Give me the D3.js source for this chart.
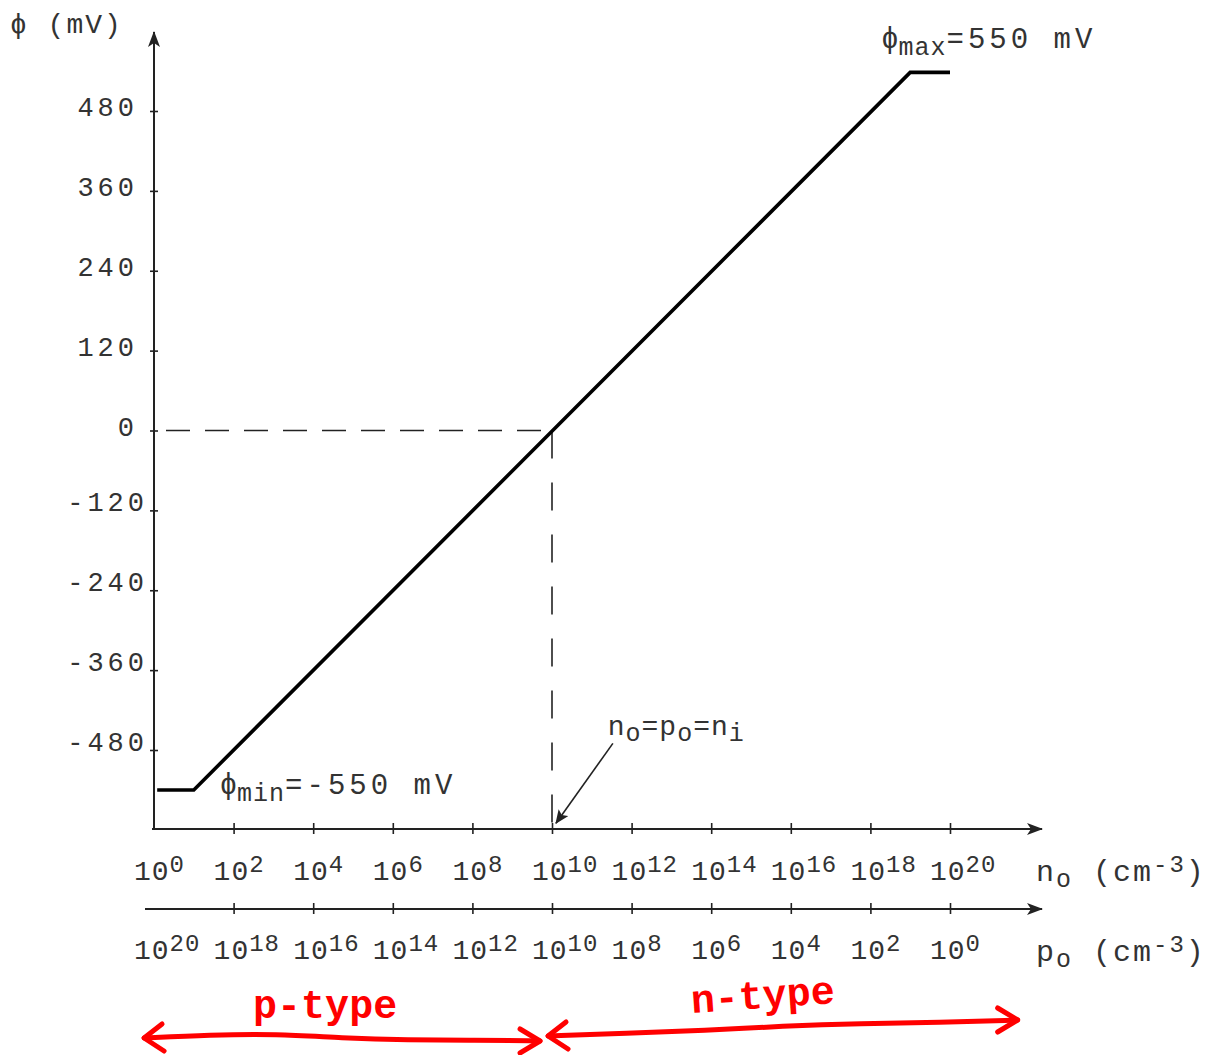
<!DOCTYPE html>
<html>
<head>
<meta charset="utf-8">
<script src="https://cdn.jsdelivr.net/npm/d3@7"></script>
<style>
  html, body { margin: 0; padding: 0; background: #fff; }
  svg { display: block; }
  text { font-family: "Liberation Mono", "DejaVu Sans Mono", monospace; fill: #333; }
</style>
</head>
<body>
<div id="chart"></div>
<script>
// potential vs carrier concentration (log10 decades)
const curveLogN = [0.08, 1, 19, 20]
const curvePhi = [-540, -540, 538, 538]

const phiTicks = [-480, -360, -240, -120, 0, 120, 240, 360, 480]
const nExponents = [0, 2, 4, 6, 8, 10, 12, 14, 16, 18, 20]
const pExponents = [20, 18, 16, 14, 12, 10, 8, 6, 4, 2, 0]

const intrinsicLogN = 10
const phiMaxLabel = "550"
const phiMinLabel = "-550"

// red hand drawn regions, in decades along the axis
const pTypeSpan = [-0.25, 9.7]
const nTypeSpan = [9.9, 21.7]

const width = 1224
const height = 1055

const x = d3.scaleLinear().domain([0, 20]).range([154, 950])
const y = d3.scaleLinear().domain([-480, 480]).range([750, 111])

const axisN = 829
const axisP = 909
const axisEnd = 1042
const ink = "#222"

const svg = d3.select("#chart").append("svg")
  .attr("width", width)
  .attr("height", height)

const defs = svg.append("defs")
defs.append("marker")
  .attr("id", "head")
  .attr("viewBox", "0 0 16 12")
  .attr("refX", 15)
  .attr("refY", 6)
  .attr("markerWidth", 16)
  .attr("markerHeight", 12)
  .attr("markerUnits", "userSpaceOnUse")
  .attr("orient", "auto")
  .append("path")
  .attr("d", "M0,0 L16,6 L0,12 L4,6 Z")
  .attr("fill", ink)

defs.append("marker")
  .attr("id", "smallhead")
  .attr("viewBox", "0 0 14 12")
  .attr("refX", 13)
  .attr("refY", 6)
  .attr("markerWidth", 14)
  .attr("markerHeight", 12)
  .attr("markerUnits", "userSpaceOnUse")
  .attr("orient", "auto")
  .append("path")
  .attr("d", "M0,0 L14,6 L0,12 L3,6 Z")
  .attr("fill", ink)

// y axis with arrow
svg.append("line")
  .attr("x1", x(0)).attr("x2", x(0))
  .attr("y1", axisN + 1).attr("y2", 32)
  .attr("stroke", ink).attr("stroke-width", 2)
  .attr("marker-end", "url(#head)")

const yAxis = svg.append("g")
  .attr("transform", `translate(${x(0) + 4},0)`)
  .call(d3.axisLeft(y).tickValues(phiTicks).tickSize(8).tickFormat(""))
yAxis.select(".domain").remove()
yAxis.selectAll(".tick line").attr("stroke", ink).attr("stroke-width", 1.6)

svg.selectAll(".phi-label")
  .data(phiTicks)
  .enter()
  .append("text")
  .attr("class", "phi-label")
  .attr("x", d => d < 0 ? x(0) - 6 : x(0) - 16)
  .attr("y", d => d < 0 ? y(d) + 1 : y(d) + 5)
  .attr("text-anchor", "end")
  .attr("font-size", 27)
  .attr("letter-spacing", 4)
  .text(d => d)

svg.append("text")
  .attr("x", 10)
  .attr("y", 33)
  .attr("font-size", 28)
  .attr("letter-spacing", 2)
  .text("ϕ (mV)")

// two concentration axes
function concAxis(yPos, startX) {
  svg.append("line")
    .attr("x1", startX).attr("x2", axisEnd)
    .attr("y1", yPos).attr("y2", yPos)
    .attr("stroke", ink).attr("stroke-width", 2)
    .attr("marker-end", "url(#head)")
  const g = svg.append("g")
    .attr("transform", `translate(0,${yPos - 6})`)
    .call(d3.axisBottom(x).tickValues(nExponents.filter(d => d > 0)).tickSize(11).tickFormat(""))
  g.select(".domain").remove()
  g.selectAll(".tick line").attr("stroke", ink).attr("stroke-width", 1.6)
}
concAxis(axisN, x(0) - 2)
concAxis(axisP, x(0) - 9)

function powerLabels(cls, exps, baseY) {
  const t = svg.selectAll("." + cls)
    .data(exps)
    .enter()
    .append("text")
    .attr("class", cls)
    .attr("x", (d, i) => x(nExponents[i]) - 20)
    .attr("y", baseY)
    .attr("font-size", 28)
  t.append("tspan").attr("letter-spacing", 1).text("10")
  t.append("tspan")
    .attr("dy", -8)
    .attr("font-size", 24)
    .attr("letter-spacing", 1)
    .text(d => d)
}
powerLabels("n-label", nExponents, 880)
powerLabels("p-label", pExponents, 959)

function unitLabel(sym, baseY) {
  const t = svg.append("text")
    .attr("x", 1036)
    .attr("y", baseY)
    .attr("font-size", 30)
    .attr("letter-spacing", 2)
  t.append("tspan").text(sym)
  t.append("tspan").attr("dy", 6).attr("font-size", 25).text("o")
  t.append("tspan").attr("dy", -6).text(" (cm")
  t.append("tspan").attr("dy", -9).attr("font-size", 24).text("-3")
  t.append("tspan").attr("dy", 9).text(")")
}
unitLabel("n", 881)
unitLabel("p", 961)

// dashed guides to the intrinsic point
svg.append("line")
  .attr("x1", x(0) + 12).attr("x2", x(intrinsicLogN))
  .attr("y1", y(0)).attr("y2", y(0))
  .attr("stroke", ink).attr("stroke-width", 1.6)
  .attr("stroke-dasharray", "24,15")
svg.append("line")
  .attr("x1", x(intrinsicLogN)).attr("x2", x(intrinsicLogN))
  .attr("y1", y(0)).attr("y2", axisN)
  .attr("stroke", ink).attr("stroke-width", 1.6)
  .attr("stroke-dasharray", "28,24")

// potential curve
const line = d3.line()
  .x(d => x(d[0]))
  .y(d => y(d[1]))
svg.append("path")
  .datum(d3.zip(curveLogN, curvePhi))
  .attr("d", line)
  .attr("fill", "none")
  .attr("stroke", "#000")
  .attr("stroke-width", 3.6)

// labels on the plateaus
function phiLabel(px, py, sub, val) {
  const t = svg.append("text")
    .attr("x", px)
    .attr("y", py)
    .attr("font-size", 29)
  t.append("tspan").text("ϕ")
  t.append("tspan").attr("dy", 7).attr("font-size", 25).attr("letter-spacing", 1).text(sub)
  t.append("tspan").attr("dy", -7).attr("letter-spacing", 4).text("=" + val + " mV")
}
phiLabel(x(18.27), y(538) - 24, "max", phiMaxLabel)
phiLabel(x(1.65), y(-540) + 4, "min", phiMinLabel)

// intrinsic annotation
svg.append("line")
  .attr("x1", x(11.53)).attr("x2", x(10.1))
  .attr("y1", y(-470)).attr("y2", y(-590))
  .attr("stroke", ink).attr("stroke-width", 1.6)
  .attr("marker-end", "url(#smallhead)")
const ni = svg.append("text")
  .attr("x", x(11.4))
  .attr("y", y(-457))
  .attr("font-size", 28)
  .attr("letter-spacing", 1)
ni.append("tspan").text("n")
ni.append("tspan").attr("dy", 6).attr("font-size", 25).text("o")
ni.append("tspan").attr("dy", -6).text("=p")
ni.append("tspan").attr("dy", 6).attr("font-size", 25).text("o")
ni.append("tspan").attr("dy", -6).text("=n")
ni.append("tspan").attr("dy", 6).attr("font-size", 25).text("i")

// red hand drawn region markers
const red = "#ff0000"
function handArrow(span, baseY, lift, wobble) {
  const x0 = x(span[0]), x1 = x(span[1])
  const pts = wobble.map((w, i) => [x0 + (x1 - x0) * i / (wobble.length - 1), baseY + w - lift * i / (wobble.length - 1)])
  svg.append("path")
    .attr("d", d3.line().curve(d3.curveBasis)(pts))
    .attr("fill", "none").attr("stroke", red).attr("stroke-width", 5).attr("stroke-linecap", "round")
  const a = pts[0], b = pts[pts.length - 1]
  svg.append("path")
    .attr("d", `M${a[0] + 18},${a[1] - 14} L${a[0]},${a[1]} L${a[0] + 20},${a[1] + 13}`)
    .attr("fill", "none").attr("stroke", red).attr("stroke-width", 5)
    .attr("stroke-linecap", "round").attr("stroke-linejoin", "round")
  svg.append("path")
    .attr("d", `M${b[0] - 20},${b[1] - 12} L${b[0]},${b[1]} L${b[0] - 20},${b[1] + 12}`)
    .attr("fill", "none").attr("stroke", red).attr("stroke-width", 5)
    .attr("stroke-linecap", "round").attr("stroke-linejoin", "round")
}
handArrow(pTypeSpan, 1038, 0, [0, -3, -4, 0, 2, 2, 3])
handArrow(nTypeSpan, 1036, 16, [0, 0, 0, -2, -2, 0, 0])

svg.append("text")
  .attr("x", x(4.3))
  .attr("y", 1018)
  .attr("font-family", "DejaVu Sans")
  .attr("font-size", 40)
  .attr("font-weight", "bold")
  .attr("text-anchor", "middle")
  .style("fill", red)
  .text("p-type")
svg.append("text")
  .attr("x", x(15.3))
  .attr("y", 1008)
  .attr("font-family", "DejaVu Sans")
  .attr("font-size", 40)
  .attr("font-weight", "bold")
  .attr("text-anchor", "middle")
  .attr("transform", `rotate(-4 ${x(15.3)} 1000)`)
  .style("fill", red)
  .text("n-type")
</script>
</body>
</html>
